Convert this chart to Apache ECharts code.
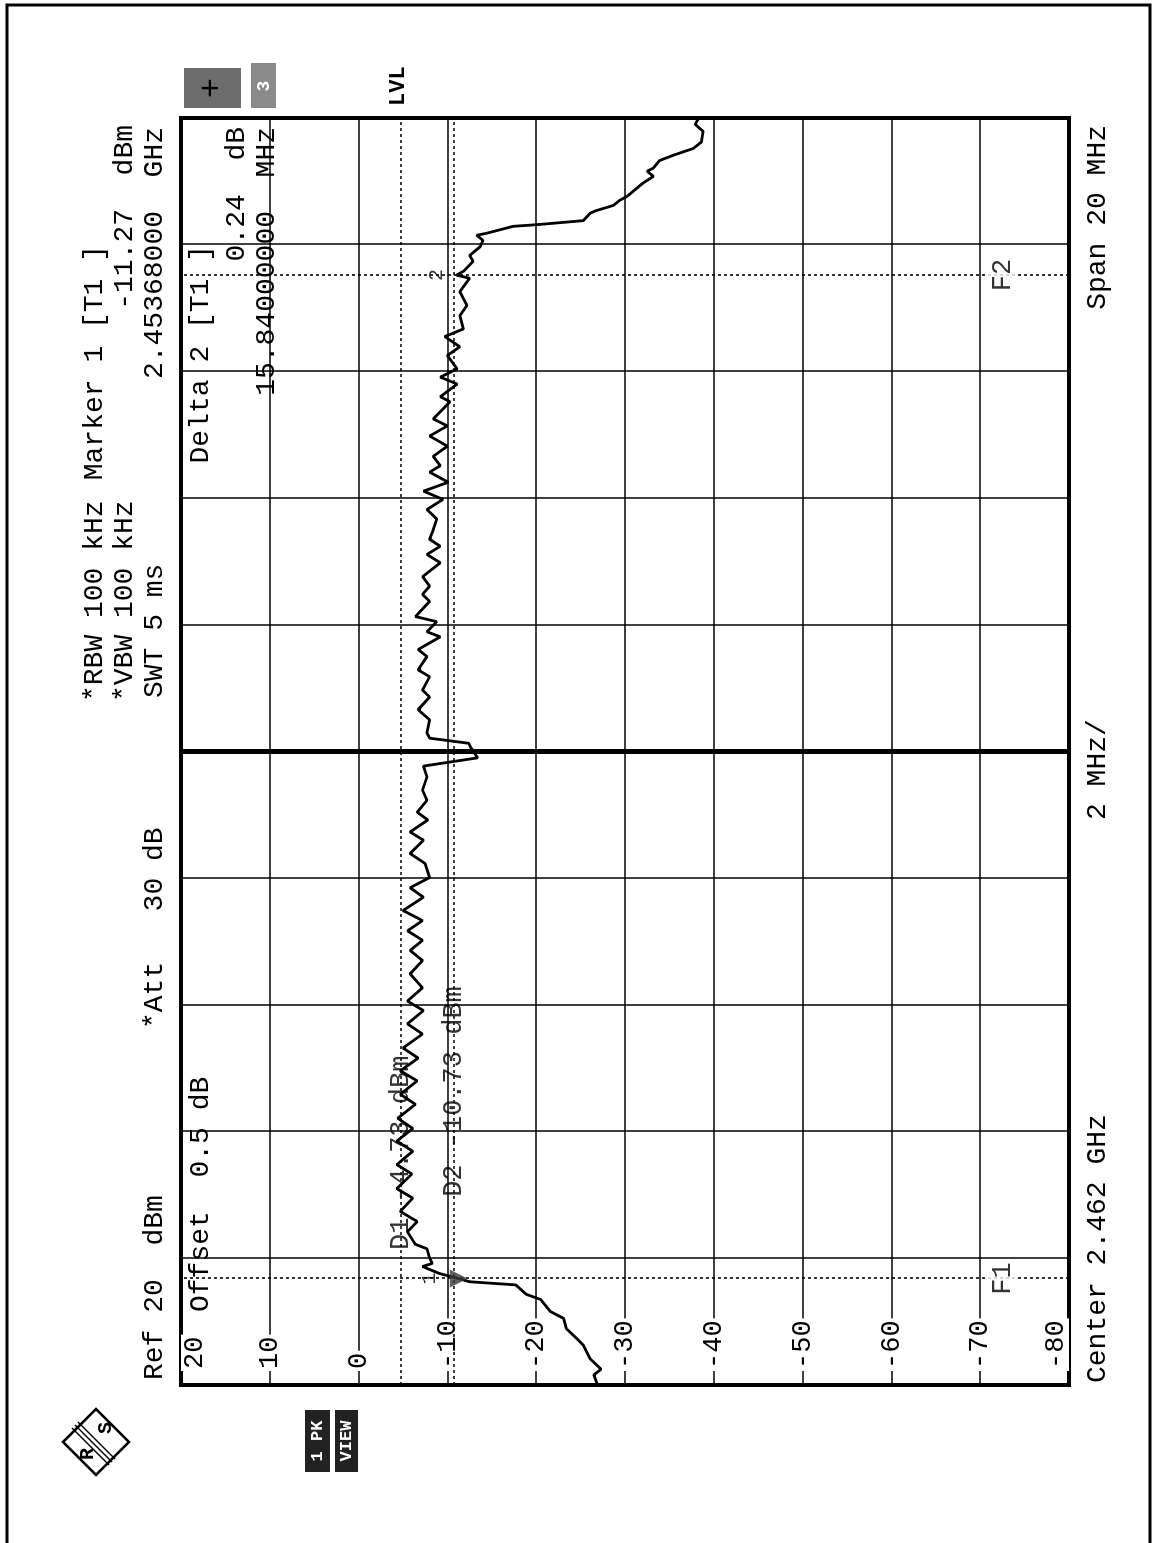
<!DOCTYPE html>
<html>
<head>
<meta charset="utf-8">
<script src="https://cdn.jsdelivr.net/npm/echarts@6/dist/echarts.min.js"></script>
<style>
html, body { margin: 0; padding: 0; background: #fff; overflow: hidden; }
/* the analyzer plot is printed sideways: draw it upright, then turn the sheet */
#page {
    position: absolute; left: 0; top: 0;
    width: 1543px; height: 1155px;
    transform-origin: 0 0;
    transform: translate(0, 1543px) rotate(-90deg);
}
</style>
</head>
<body>
<div id="page"></div>
<script>
// trace 1 (max peak), frequency in MHz
var traceFreq = [
    2452.00, 2452.16, 2452.25, 2452.41, 2452.63, 2452.73, 2452.89, 2453.05, 2453.16, 2453.35,
    2453.43, 2453.58, 2453.63, 2453.68, 2453.76, 2453.87, 2453.92, 2454.00, 2454.15, 2454.22,
    2454.42, 2454.58, 2454.74, 2454.95, 2455.10, 2455.33, 2455.48, 2455.69, 2455.85, 2456.05,
    2456.21, 2456.43, 2456.59, 2456.80, 2456.96, 2457.16, 2457.32, 2457.54, 2457.70, 2457.91,
    2458.06, 2458.27, 2458.49, 2458.70, 2458.86, 2459.02, 2459.17, 2459.33, 2459.49, 2459.70,
    2459.85, 2460.01, 2460.23, 2460.39, 2460.60, 2460.73, 2460.92, 2461.04, 2461.23, 2461.39,
    2461.60, 2461.77, 2461.90, 2462.07, 2462.13, 2462.21, 2462.29, 2462.50, 2462.66, 2462.86,
    2462.97, 2463.18, 2463.29, 2463.50, 2463.61, 2463.81, 2463.89, 2464.05, 2464.13, 2464.37,
    2464.48, 2464.61, 2464.76, 2464.98, 2465.11, 2465.24, 2465.35, 2465.46, 2465.67, 2465.82,
    2465.98, 2466.11, 2466.25, 2466.41, 2466.51, 2466.66, 2466.82, 2466.98, 2467.14, 2467.25,
    2467.52, 2467.60, 2467.80, 2467.91, 2468.04, 2468.25, 2468.39, 2468.55, 2468.67, 2468.88,
    2469.04, 2469.26, 2469.47, 2469.52, 2469.58, 2469.74, 2469.83, 2469.97, 2470.07, 2470.15,
    2470.18, 2470.29, 2470.32, 2470.38, 2470.50, 2470.54, 2470.62, 2470.70, 2470.76, 2470.97,
    2471.08, 2471.16, 2471.21, 2471.33, 2471.41, 2471.52, 2471.62, 2471.79, 2471.90, 2472.00
];
// level in dBm
var traceLevel = [
    -26.9, -26.5, -27.3, -26.1, -25.3, -24.6, -23.4, -23.1, -21.6, -20.5,
    -18.9, -17.7, -12.5, -11.27, -9.1, -7.2, -8.3, -8.0, -7.7, -6.4,
    -5.5, -6.6, -4.7, -6.1, -4.3, -6.0, -4.3, -6.1, -4.3, -6.1,
    -4.4, -6.4, -4.7, -6.6, -4.7, -6.7, -5.0, -7.2, -5.5, -7.3,
    -5.5, -7.2, -5.8, -7.2, -5.8, -7.2, -5.5, -7.2, -5.0, -7.3,
    -5.8, -8.0, -7.5, -5.8, -7.3, -5.8, -7.8, -6.6, -7.7, -7.2,
    -7.7, -7.3, -13.4, -12.6, -12.4, -8.0, -7.7, -8.0, -6.7, -8.0,
    -7.2, -8.0, -6.7, -7.7, -6.7, -9.2, -7.7, -8.8, -6.4, -8.0,
    -7.2, -8.0, -7.2, -9.2, -7.7, -9.2, -8.0, -8.3, -8.8, -7.7,
    -9.5, -7.3, -10.1, -8.0, -9.2, -8.4, -10.0, -8.0, -10.0, -8.4,
    -10.3, -9.2, -11.1, -9.2, -11.1, -10.0, -11.4, -9.7, -11.8, -11.4,
    -12.2, -11.4, -12.5, -11.03, -11.8, -12.9, -12.5, -13.7, -14.0, -13.3,
    -14.4, -17.4, -20.4, -25.3, -26.1, -26.8, -28.7, -29.4, -30.2, -32.0,
    -33.2, -32.5, -33.2, -33.9, -35.4, -37.7, -38.6, -38.8, -37.9, -38.3
];

// markers, display lines (D1/D2) and frequency lines (F1/F2)
var marker1 = [2453.68, -11.27];
var marker2 = [2469.52, -11.03];
var dLines = [-4.73, -10.73];
var dNames = ['D1 -4.73 dBm', 'D2 -10.73 dBm'];
var dLabelAt = [2454.13, 2454.97];
var fLines = [2453.68, 2469.52];
var fNames = ['F1', 'F2'];
var fLabelLevel = -72.5;
var centerFreq = 2462;

var FONT = '"Liberation Mono", "Courier New", monospace';

function txt(s, u, v, align, size, weight, fill) {
    return {
        type: 'text', x: u, y: v, z: 50,
        style: {
            text: s, fill: fill || '#000', fontFamily: FONT,
            fontSize: size || 28, fontWeight: weight || 'normal',
            align: align || 'left', verticalAlign: 'middle'
        }
    };
}
function box(u, v, w, h, color) {
    return { type: 'rect', z: 40, shape: { x: u, y: v, width: w, height: h }, style: { fill: color } };
}

var trace = traceFreq.map(function (f, i) { return [f, traceLevel[i]]; });

var markLines = [];
dLines.forEach(function (d) { markLines.push({ yAxis: d }); });
fLines.forEach(function (f) { markLines.push({ xAxis: f }); });
markLines.push({ xAxis: centerFreq, lineStyle: { type: 'solid', width: 5 } });

var notes = [];
dLines.forEach(function (d, i) {
    notes.push({ name: dNames[i], value: [dLabelAt[i], d], label: { align: 'left' } });
});
fLines.forEach(function (f, i) {
    notes.push({ name: fNames[i], value: [f, fLabelLevel], label: { align: 'center', backgroundColor: '#fff', padding: [2, 3] } });
});

var chart = echarts.init(document.getElementById('page'), null, { width: 1543, height: 1155 });

var option = {
    animation: false,
    backgroundColor: '#fff',
    textStyle: { fontFamily: FONT },
    grid: {
        left: 158, top: 181, width: 1267, height: 888,
        show: true, borderColor: '#000', borderWidth: 4
    },
    xAxis: {
        type: 'value', min: 2452, max: 2472, interval: 2,
        axisLine: { show: false }, axisTick: { show: false }, axisLabel: { show: false },
        splitLine: { show: true, lineStyle: { color: '#000', width: 1.5 } }
    },
    yAxis: {
        type: 'value', min: -80, max: 20, interval: 10,
        axisLine: { show: false }, axisTick: { show: false },
        splitLine: { show: true, lineStyle: { color: '#000', width: 1.5 } },
        axisLabel: {
            inside: true, margin: 14, color: '#000', fontFamily: FONT, fontSize: 27,
            backgroundColor: '#fff', padding: [0, 2],
            verticalAlignMaxLabel: 'top', verticalAlignMinLabel: 'bottom'
        }
    },
    series: [
        {
            type: 'line', data: trace, symbol: 'none', z: 5,
            lineStyle: { color: '#000', width: 2.8 },
            markLine: {
                silent: true, symbol: 'none', label: { show: false },
                lineStyle: { color: '#000', width: 1.6, type: [3, 3] },
                data: markLines
            }
        },
        {
            // marker 1 (down triangle) and delta marker 2
            type: 'scatter', z: 8,
            data: [
                { value: marker1, name: '1', symbol: 'triangle', symbolRotate: 180, symbolSize: 18 },
                { value: marker2, name: '2', symbolSize: 0 }
            ],
            itemStyle: { color: '#3a3a3a' },
            label: { show: true, formatter: '{b}', position: 'top', distance: 10, color: '#000', fontFamily: FONT, fontSize: 20 }
        },
        {
            // line labels
            type: 'scatter', z: 9, symbolSize: 0, data: notes,
            label: { show: true, formatter: '{b}', position: 'inside', verticalAlign: 'middle', color: '#000', fontFamily: FONT, fontSize: 27 }
        }
    ],
    graphic: [
        // sheet frame
        { type: 'rect', z: 1, shape: { x: -10, y: 7, width: 1548, height: 1143 }, style: { fill: 'none', stroke: '#000', lineWidth: 3 } },
        // header
        txt('Ref 20  dBm', 163, 155),
        txt('*Att   30 dB', 514, 155),
        txt('*RBW 100 kHz', 841, 95),
        txt('*VBW 100 kHz', 841, 125),
        txt('SWT 5 ms', 845, 155),
        txt('Marker 1 [T1 ]', 1298, 95, 'right'),
        txt('-11.27  dBm', 1418, 125, 'right'),
        txt('2.45368000  GHz', 1416, 155, 'right'),
        // inside the screen
        txt('Offset  0.5 dB', 231, 201),
        txt('Delta 2 [T1 ]', 1298, 201, 'right'),
        txt('0.24  dB', 1416, 237, 'right'),
        txt('15.84000000  MHz', 1416, 267, 'right'),
        // footer
        txt('Center 2.462 GHz', 160, 1098),
        txt('2 MHz/', 723, 1098),
        txt('Span 20 MHz', 1418, 1098, 'right'),
        // side status fields
        txt('LVL', 1437, 398, 'left', 22, 'bold'),
        box(1435, 184, 40, 57, '#6d6d6d'),
        txt('+', 1455, 212, 'center', 34, 'normal'),
        box(1435, 251, 45, 25, '#8a8a8a'),
        txt('3', 1457, 264, 'center', 18, 'bold', '#fff'),
        box(71, 305, 62, 25, '#222'),
        txt('1 PK', 102, 318, 'center', 17, 'bold', '#fff'),
        box(71, 335, 62, 23, '#222'),
        txt('VIEW', 102, 347, 'center', 17, 'bold', '#fff'),
        // R&S logo
        { type: 'polygon', z: 40, shape: { points: [[101, 63], [134, 96], [101, 129], [68, 96]] }, style: { fill: 'none', stroke: '#000', lineWidth: 2.5 } },
        { type: 'line', z: 40, shape: { x1: 118, y1: 75, x2: 81, y2: 112 }, style: { stroke: '#000', lineWidth: 1.5 } },
        { type: 'line', z: 40, shape: { x1: 121, y1: 78, x2: 84, y2: 115 }, style: { stroke: '#000', lineWidth: 1.5 } },
        { type: 'line', z: 40, shape: { x1: 115, y1: 72, x2: 78, y2: 109 }, style: { stroke: '#000', lineWidth: 1.5 } },
        txt('R', 89, 88, 'center', 20, 'bold'),
        txt('S', 115, 106, 'center', 20, 'bold')
    ]
};

chart.setOption(option);
</script>
</body>
</html>
